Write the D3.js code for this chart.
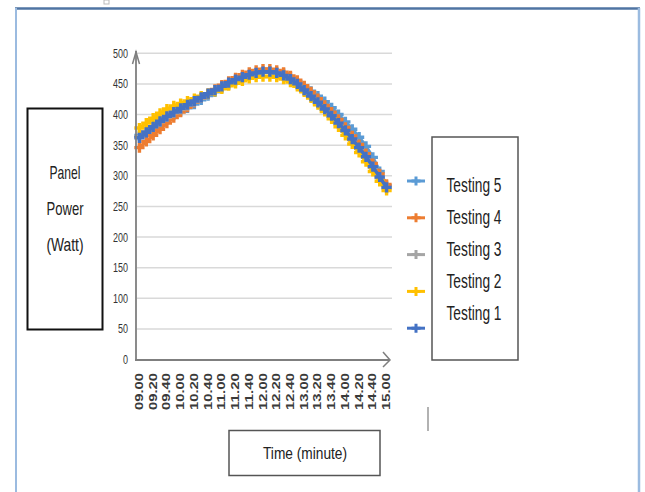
<!DOCTYPE html>
<html><head><meta charset="utf-8">
<script src="https://cdn.jsdelivr.net/npm/d3@7"></script>
<style>html,body{margin:0;padding:0;background:#fff;} svg{display:block;}</style>
</head><body>
<svg id="c" width="645" height="492"></svg>
<script>
const times = ["09.00","09.10","09.20","09.30","09.40","09.50","10.00","10.10","10.20","10.30","10.40","10.50",
  "11.00","11.10","11.20","11.30","11.40","11.50","12.00","12.10","12.20","12.30","12.40","12.50",
  "13.00","13.10","13.20","13.30","13.40","13.50","14.00","14.10","14.20","14.30","14.40","14.50","15.00"];
const tickLabels = ["09.00","09.20","09.40","10.00","10.20","10.40","11.00","11.20","11.40","12.00",
  "12.20","12.40","13.00","13.20","13.40","14.00","14.20","14.40","15.00"];
const yTicks = [0,50,100,150,200,250,300,350,400,450,500];

const testing1 = [362,371,380,389,397,404,410,416,422,428,434,440,446,452,457,461,465,468,470,470,468,464,458,450,440,430,420,409,398,386,374,360,346,331,315,298,281];
const testing2 = [378,386,394,402,409,414,418,422,426,430,434,438,442,447,451,455,459,461,462,462,461,458,453,446,437,427,416,405,393,380,366,352,338,323,307,291,276];
const testing3 = [364,372,380,388,396,403,409,415,421,427,433,439,445,451,456,460,464,467,469,469,467,463,457,449,439,429,419,408,397,385,373,359,345,330,314,297,280];
const testing4 = [346,356,366,376,386,395,404,412,420,427,434,441,448,454,460,465,469,472,474,474,472,469,463,456,447,437,426,415,404,392,379,365,351,336,320,303,286];
const testing5 = [366,372,379,386,393,399,405,411,417,424,431,437,443,449,455,460,464,467,469,470,469,467,461,454,446,438,430,421,411,400,388,376,363,348,330,307,284];

const seriesNames = ["Testing 5","Testing 4","Testing 3","Testing 2","Testing 1"];
const seriesValues = [testing5, testing4, testing3, testing2, testing1];
const seriesColors = ["#5B9BD5","#ED7D31","#A5A5A5","#FFC000","#4472C4"];

const svg = d3.select("#c");
const font = "'Liberation Sans', Arial, sans-serif";

// outer frame
svg.append("line").attr("x1",15).attr("x2",640).attr("y1",8.5).attr("y2",8.5).attr("stroke","#4f74a3").attr("stroke-width",2.5);
svg.append("line").attr("x1",16).attr("x2",16).attr("y1",8).attr("y2",492).attr("stroke","#9bbbe0").attr("stroke-width",2);
svg.append("line").attr("x1",639).attr("x2",639).attr("y1",8).attr("y2",492).attr("stroke","#9bbbe0").attr("stroke-width",2.5);
svg.append("rect").attr("x",104).attr("y",0).attr("width",5).attr("height",4).attr("fill","none").attr("stroke","#bbb").attr("stroke-width",1);

const x = d3.scalePoint().domain(times).range([136, 390]).padding(0.5);
const y = d3.scaleLinear().domain([0, 500]).range([359.5, 53.3]);

// gridlines
svg.append("g").selectAll("line").data(yTicks.filter(d => d > 0)).join("line")
  .attr("x1", 137).attr("x2", 392)
  .attr("y1", d => y(d)).attr("y2", d => y(d))
  .attr("stroke", "#d9d9d9").attr("stroke-width", 1.5);

// y tick labels
svg.append("g").selectAll("text").data(yTicks).join("text")
  .attr("x", 128).attr("y", d => y(d) + 4.5)
  .attr("text-anchor", "end")
  .attr("font-family", font).attr("font-size", 13).attr("fill", "#333")
  .attr("textLength", d => String(d).length * 5)
  .attr("lengthAdjust", "spacingAndGlyphs")
  .text(d => d);

// series
const line = d3.line().x((d, i) => x(times[i])).y(d => y(d));
const cross = d3.symbol().type(d3.symbolCross).size(58);
const legCross = d3.symbol().type(d3.symbolCross).size(45);
seriesValues.forEach((vals, k) => {
  const g = svg.append("g");
  g.append("path").attr("d", line(vals)).attr("fill", "none")
    .attr("stroke", seriesColors[k]).attr("stroke-width", 3.5).attr("stroke-linejoin", "round");
  g.selectAll("path.m").data(vals).join("path").attr("class", "m")
    .attr("d", cross)
    .attr("transform", (d, i) => `translate(${x(times[i])},${y(d)})`)
    .attr("fill", seriesColors[k]);
});

// axes with arrows
const axisColor = "#7f7f7f";
svg.append("line").attr("x1", 136).attr("x2", 136).attr("y1", 360).attr("y2", 51).attr("stroke", axisColor).attr("stroke-width", 1.8);
svg.append("path").attr("d", "M132.5,64 L136,52 L139.5,64").attr("fill", "none").attr("stroke", axisColor).attr("stroke-width", 1.5);
svg.append("line").attr("x1", 135).attr("x2", 390).attr("y1", 360).attr("y2", 360).attr("stroke", axisColor).attr("stroke-width", 1.8);
svg.append("path").attr("d", "M383,352 L390,360 L383,367").attr("fill", "none").attr("stroke", axisColor).attr("stroke-width", 1.5);

// x tick labels (rotated)
svg.append("g").selectAll("text").data(tickLabels).join("text")
  .attr("transform", d => `translate(${x(d) + 3.5},373) rotate(-90)`)
  .attr("text-anchor", "end")
  .attr("font-family", font).attr("font-size", 10).attr("font-weight", "bold").attr("fill", "#3a3a3a")
  .attr("textLength", 37).attr("lengthAdjust", "spacingAndGlyphs")
  .text(d => d);

// small artifact line
svg.append("line").attr("x1", 428).attr("x2", 428).attr("y1", 407).attr("y2", 431).attr("stroke", "#999").attr("stroke-width", 1.5);

// y-axis title box
svg.append("rect").attr("x", 27.5).attr("y", 108.5).attr("width", 75).attr("height", 221)
  .attr("fill", "#fff").attr("stroke", "#111").attr("stroke-width", 2);
const yTitle = [["Panel", 31, 179], ["Power", 37, 215], ["(Watt)", 37, 251]];
svg.append("g").selectAll("text").data(yTitle).join("text")
  .attr("x", 65).attr("y", d => d[2])
  .attr("text-anchor", "middle")
  .attr("font-family", font).attr("font-size", 19).attr("fill", "#222")
  .attr("textLength", d => d[1]).attr("lengthAdjust", "spacingAndGlyphs")
  .text(d => d[0]);

// x-axis title box
svg.append("rect").attr("x", 229).attr("y", 430.5).attr("width", 151).attr("height", 45)
  .attr("fill", "#fff").attr("stroke", "#555").attr("stroke-width", 1.5);
svg.append("text").attr("x", 305).attr("y", 459).attr("text-anchor", "middle")
  .attr("font-family", font).attr("font-size", 17).attr("fill", "#222")
  .attr("textLength", 84).attr("lengthAdjust", "spacingAndGlyphs")
  .text("Time (minute)");

// legend
svg.append("rect").attr("x", 432).attr("y", 137).attr("width", 86).attr("height", 223)
  .attr("fill", "#fff").attr("stroke", "#555").attr("stroke-width", 1.5);
const leg = svg.append("g");
seriesNames.forEach((name, i) => {
  const my = 181 + i * 36.8;
  leg.append("line").attr("x1", 407).attr("x2", 425).attr("y1", my).attr("y2", my)
    .attr("stroke", seriesColors[i]).attr("stroke-width", 3);
  leg.append("path").attr("d", legCross).attr("transform", `translate(416,${my})`).attr("fill", seriesColors[i]);
  leg.append("text").attr("x", 474).attr("y", 192 + i * 32).attr("text-anchor", "middle")
    .attr("font-family", font).attr("font-size", 20).attr("fill", "#222")
    .attr("textLength", 55).attr("lengthAdjust", "spacingAndGlyphs")
    .text(name);
});
</script>
</body></html>
